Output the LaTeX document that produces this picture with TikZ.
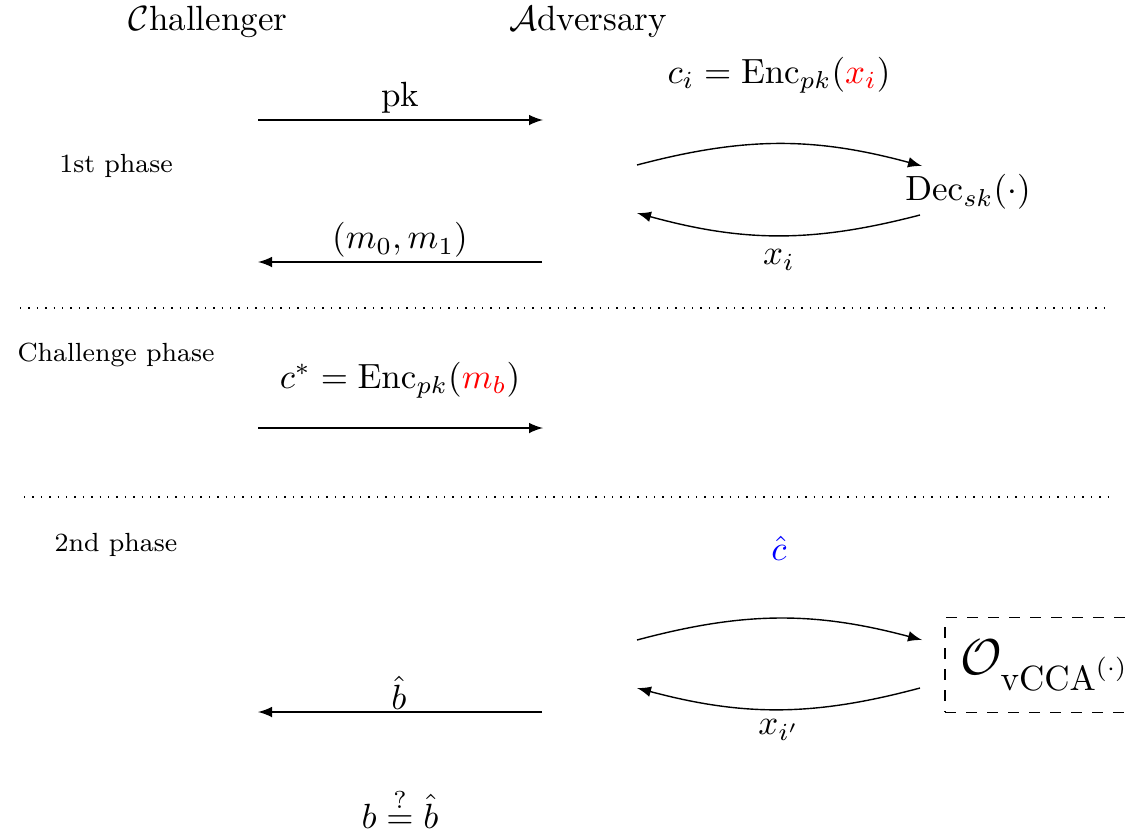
\documentclass[tikz,border=0pt]{standalone}
\usepackage{amsmath,amssymb,amsfonts}
\usepackage{xcolor}
\usetikzlibrary{arrows, positioning}

\begin{document}
\begin{tikzpicture}[x=0.2857pt, y=-0.2857pt, >=latex]
        \tikzstyle{party} = [inner sep=0pt]
        \tikzstyle{phase} = [font=\fontsize{7.5}{9}\selectfont, inner sep=0pt]
        \tikzstyle{msg} = [inner sep=0pt]
        \tikzstyle{arrow} = [->, >=latex]
        \tikzstyle{sep} = [dotted]
        \tikzstyle{oracle} = [rectangle, draw=black, dashed, font=\Large, minimum width=57.1pt, minimum height=27.1pt]
        \useasboundingbox (0,0) rectangle (1128,830);

        % Parties
        \node (chal) [party] at (208,22) {$\mathcal{C}$hallenger};
        \node (adv) [party] at (588,22) {$\mathcal{A}$dversary};

        % 1st phase
        \node (ph1) [phase] at (116,166) {1st phase};
        \coordinate (pkc) at (258,120);
        \coordinate (pka) at (543,120);
        \node (pk) [msg] at (400,98) {pk};
        \node (enc) [msg] at (779,75) {$c_i = \mathrm{Enc}_{pk}(\textcolor{red}{x_i})$};
        \node (dec) [msg] at (968,192) {$\mathrm{Dec}_{sk}(\cdot)$};
        \coordinate (qs) at (637,165);
        \coordinate (qe) at (922,166);
        \coordinate (rs) at (920,215);
        \coordinate (re) at (637,213);
        \node (xi) [msg] at (779,260) {$x_i$};
        \coordinate (ma) at (542,262);
        \coordinate (mc) at (258,262);
        \node (mm) [msg] at (400,240) {$(m_0, m_1)$};

        % Challenge phase
        \coordinate (s1l) at (20,308);
        \coordinate (s1r) at (1108,308);
        \node (ph2) [phase] at (116,355) {Challenge phase};
        \node (cstar) [msg] at (400,380) {$c^* = \mathrm{Enc}_{pk}(\textcolor{red}{m_b})$};
        \coordinate (csc) at (258,428);
        \coordinate (csa) at (543,428);

        % 2nd phase
        \coordinate (s2l) at (24,497);
        \coordinate (s2r) at (1112,497);
        \node (ph3) [phase] at (116,545) {2nd phase};
        \node (chat) [msg] at (779,548) {$\textcolor{blue}{\hat{c}}$};
        \node (orc) [oracle] at (1045,665) {$\mathcal{O}_{\mathrm{vCCA}^{(\cdot)}}$};
        \coordinate (us) at (637,640);
        \coordinate (ue) at (922,640);
        \coordinate (vs) at (920,688);
        \coordinate (ve) at (637,688);
        \node (xip) [msg] at (779,730) {$x_{i'}$};
        \node (bhat) [msg] at (399,693) {$\hat{b}$};
        \coordinate (ba) at (542,712);
        \coordinate (bc) at (258,712);
        \node (check) [msg] at (400,808) {$b \stackrel{?}{=} \hat{b}$};

        % Arrows
        \draw [arrow] (pkc) -- (pka);
        \draw [arrow] (qs) to[bend left=15] (qe);
        \draw [arrow] (rs) to[bend left=15] (re);
        \draw [arrow] (ma) -- (mc);
        \draw [sep] (s1l) -- (s1r);
        \draw [arrow] (csc) -- (csa);
        \draw [sep] (s2l) -- (s2r);
        \draw [arrow] (us) to[bend left=15] (ue);
        \draw [arrow] (vs) to[bend left=15] (ve);
        \draw [arrow] (ba) -- (bc);
    \end{tikzpicture}
\end{document}
